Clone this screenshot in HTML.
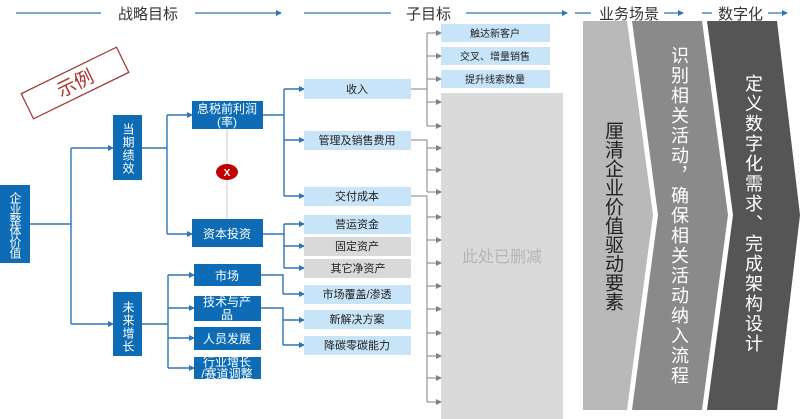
<!DOCTYPE html>
<html><head><meta charset="utf-8"><style>
html,body{margin:0;padding:0;background:#fff}
body{width:800px;height:419px;position:relative;overflow:hidden;font-family:"Liberation Sans","Noto Sans CJK SC",sans-serif}
svg{position:absolute;left:0;top:0}
.v{position:absolute;writing-mode:vertical-rl;text-orientation:upright;color:#fff;text-align:center}
</style></head><body>
<svg width="800" height="419" viewBox="0 0 800 419" font-family="Liberation Sans, Noto Sans CJK SC, sans-serif">
<defs>
<marker id="ab" markerWidth="6" markerHeight="6" refX="5" refY="3" orient="auto" markerUnits="userSpaceOnUse"><path d="M0,0 L6,3 L0,6z" fill="#2e75b6"/></marker>
<marker id="ag" markerWidth="6" markerHeight="6" refX="5" refY="3" orient="auto" markerUnits="userSpaceOnUse"><path d="M0,0 L6,3 L0,6z" fill="#808080"/></marker>
</defs>
<g stroke="#2e75b6" stroke-width="1.3" fill="none">
<line x1="16" y1="13" x2="101" y2="13"/>
<line x1="195" y1="13" x2="281" y2="13" marker-end="url(#ab)"/>
<line x1="304" y1="13" x2="391" y2="13"/>
<line x1="466" y1="13" x2="567" y2="13" marker-end="url(#ab)"/>
<line x1="575" y1="13" x2="591" y2="13"/>
<line x1="664" y1="13" x2="683" y2="13" marker-end="url(#ab)"/>
<line x1="702" y1="13" x2="712" y2="13"/>
<line x1="768" y1="13" x2="787" y2="13" marker-end="url(#ab)"/>
</g>
<g font-size="15" fill="#333">
<text x="118" y="19">战略目标</text>
<text x="406" y="19">子目标</text>
<text x="599" y="19">业务场景</text>
<text x="718" y="19">数字化</text>
</g>
<g transform="translate(75,83) rotate(-26)">
<rect x="-53" y="-14" width="106" height="28" fill="none" stroke="#a33a3a" stroke-width="1.3"/>
<text x="-19" y="7" font-size="19" fill="#b03030">示例</text>
</g>
<rect x="441" y="93" width="122" height="326" fill="#dadada"/>
<text x="502" y="262" font-size="16" fill="#b5b5b5" text-anchor="middle">此处已删减</text>
<g fill="#c8e4f8">
<rect x="441" y="24" width="109" height="18"/>
<rect x="441" y="47" width="109" height="18"/>
<rect x="441" y="70" width="109" height="18"/>
</g>
<g font-size="10" fill="#222" text-anchor="middle">
<text x="495" y="37">触达新客户</text>
<text x="495" y="60">交叉、增量销售</text>
<text x="495" y="83">提升线索数量</text>
</g>
<polygon points="583,21 627,21 653,215 627,410 583,410" fill="#b9b9b9"/>
<polygon points="632,21 702,21 728,215 702,410 632,410 658,215" fill="#8a8a8a"/>
<polygon points="707,21 777,21 800,215 777,410 707,410 733,215" fill="#555"/>
<g stroke="#808080" stroke-width="1" fill="none">
<path d="M411,89 H427 M427,33 V126"/>
<path d="M411,140 H427 V192"/>
<path d="M411,196 H427 V402"/>
</g>
<g stroke="#808080" stroke-width="1" marker-end="url(#ag)">
<line x1="427" y1="33" x2="441" y2="33"/><line x1="427" y1="56" x2="441" y2="56"/><line x1="427" y1="79" x2="441" y2="79"/><line x1="427" y1="102" x2="441" y2="102"/><line x1="427" y1="126" x2="441" y2="126"/>
<line x1="427" y1="148" x2="441" y2="148"/><line x1="427" y1="170" x2="441" y2="170"/><line x1="427" y1="192" x2="441" y2="192"/>
<line x1="427" y1="217" x2="441" y2="217"/><line x1="427" y1="240" x2="441" y2="240"/><line x1="427" y1="263" x2="441" y2="263"/><line x1="427" y1="286" x2="441" y2="286"/><line x1="427" y1="309" x2="441" y2="309"/><line x1="427" y1="333" x2="441" y2="333"/><line x1="427" y1="356" x2="441" y2="356"/><line x1="427" y1="378" x2="441" y2="378"/><line x1="427" y1="402" x2="441" y2="402"/>
</g>
<g stroke="#2e75b6" stroke-width="1.4" fill="none">
<path d="M30,224 H71 M71,148 V324"/>
<path d="M142,148 H167 M167,115 V234"/>
<path d="M263,115 H284 M284,89 V196"/>
<path d="M263,234 H284 M284,224 V268"/>
<path d="M142,324 H168 M168,275 V368"/>
<path d="M261,275 H283 V294"/>
<path d="M261,308 H283 V345"/>
</g>
<g stroke="#2e75b6" stroke-width="1.4" marker-end="url(#ab)">
<line x1="71" y1="148" x2="113" y2="148"/><line x1="71" y1="324" x2="113" y2="324"/>
<line x1="167" y1="115" x2="192" y2="115"/><line x1="167" y1="234" x2="192" y2="234"/>
<line x1="284" y1="89" x2="304" y2="89"/><line x1="284" y1="140" x2="304" y2="140"/><line x1="284" y1="196" x2="304" y2="196"/>
<line x1="284" y1="224" x2="304" y2="224"/><line x1="284" y1="246" x2="304" y2="246"/><line x1="284" y1="268" x2="304" y2="268"/>
<line x1="168" y1="275" x2="194" y2="275"/><line x1="168" y1="308" x2="194" y2="308"/><line x1="168" y1="338" x2="194" y2="338"/><line x1="168" y1="368" x2="194" y2="368"/>
<line x1="283" y1="294" x2="304" y2="294"/><line x1="283" y1="320" x2="304" y2="320"/><line x1="283" y1="345" x2="304" y2="345"/>
</g>
<line x1="227" y1="129" x2="227" y2="219" stroke="#c8c8c8" stroke-width="1"/>
<ellipse cx="227" cy="172" rx="11" ry="8" fill="#c00000"/>
<text x="227" y="176" font-size="10" font-weight="bold" fill="#fff" text-anchor="middle">X</text>
<g fill="#0d6cb5">
<rect x="0" y="185" width="30" height="78"/>
<rect x="113" y="115" width="29" height="65"/>
<rect x="113" y="292" width="29" height="64"/>
<rect x="192" y="101" width="71" height="28"/>
<rect x="192" y="219" width="71" height="28"/>
<rect x="194" y="264" width="67" height="22"/>
<rect x="194" y="296" width="67" height="25"/>
<rect x="194" y="327" width="67" height="23"/>
<rect x="194" y="357" width="67" height="22"/>
</g>
<g font-size="12" fill="#fff" text-anchor="middle">
<text x="227" y="113">息税前利润</text><text x="227" y="126">(率)</text>
<text x="227" y="238">资本投资</text>
<text x="227" y="280">市场</text>
<text x="227" y="306">技术与产</text><text x="227" y="319">品</text>
<text x="227" y="343">人员发展</text>
<text x="227" y="366">行业增长</text><text x="227" y="378">/赛道调整</text>
</g>
<g fill="#c8e4f8">
<rect x="304" y="79" width="107" height="20"/>
<rect x="304" y="131" width="107" height="19"/>
<rect x="304" y="187" width="107" height="19"/>
<rect x="304" y="215" width="107" height="19"/>
<rect x="304" y="285" width="107" height="19"/>
<rect x="304" y="310" width="107" height="19"/>
<rect x="304" y="336" width="107" height="19"/>
</g>
<g fill="#d9d9d9">
<rect x="304" y="237" width="107" height="19"/>
<rect x="304" y="259" width="107" height="19"/>
</g>
<g font-size="11" fill="#222" text-anchor="middle">
<text x="357" y="93">收入</text>
<text x="357" y="144">管理及销售费用</text>
<text x="357" y="200">交付成本</text>
<text x="357" y="228">营运资金</text>
<text x="357" y="250">固定资产</text>
<text x="358" y="272">其它净资产</text>
<text x="357" y="298">市场覆盖/渗透</text>
<text x="357" y="323">新解决方案</text>
<text x="357" y="349">降碳零碳能力</text>
</g>
</svg>
<div class="v" style="left:0;top:188px;width:30px;height:74px;font-size:12px;line-height:30px;letter-spacing:-1px">企业整体价值</div>
<div class="v" style="left:113px;top:122px;width:29px;height:54px;font-size:12px;line-height:29px;letter-spacing:1px">当期绩效</div>
<div class="v" style="left:113px;top:300px;width:29px;height:54px;font-size:12px;line-height:29px;letter-spacing:1px">未来增长</div>
<div class="v" style="left:598px;top:121px;width:28px;font-size:19px;line-height:28px;color:#222;letter-spacing:0px">厘清企业价值驱动要素</div>
<div class="v" style="left:665px;top:46px;width:28px;font-size:18px;line-height:28px;color:#fff;letter-spacing:2px">识别相关活动，确保相关活动纳入流程</div>
<div class="v" style="left:739px;top:74px;width:28px;font-size:18px;line-height:28px;color:#fff;letter-spacing:2px">定义数字化需求、完成架构设计</div>
</body></html>
